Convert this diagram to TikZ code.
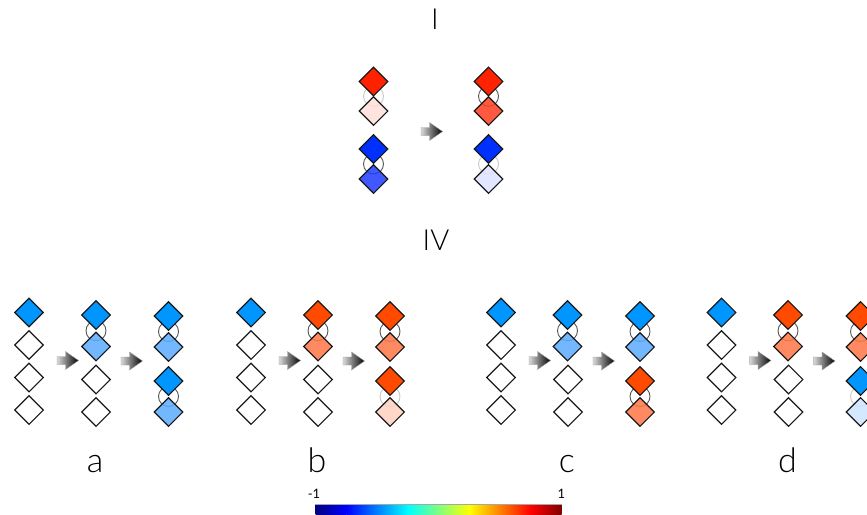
\documentclass[tikz,border=0pt]{standalone}
\usepackage{fontspec}
\setmainfont{Lato}[UprightFont=* Light]
\newfontfamily\tickfont{Lato}
\usetikzlibrary{shapes.geometric}

% fills
\definecolor{topred}{RGB}{255,34,0}
\definecolor{topredb}{RGB}{255,60,30}
\definecolor{pink}{RGB}{255,222,216}
\definecolor{topblue}{RGB}{0,48,255}
\definecolor{topblueb}{RGB}{30,60,255}
\definecolor{paleviolet}{RGB}{222,226,255}
\definecolor{sblue}{RGB}{0,150,255}
\definecolor{lblue}{RGB}{90,170,255}
\definecolor{paleblue}{RGB}{204,228,255}
\definecolor{sorange}{RGB}{255,74,0}
\definecolor{lorange}{RGB}{255,118,70}
\definecolor{peach}{RGB}{255,208,192}
\definecolor{ringdark}{RGB}{85,85,85}
\definecolor{ringlight}{RGB}{200,200,200}

% a pair of linked sites: name, x, y top, y bottom, top fill, bottom fill, ring colour
\newcommand\bondpair[7]{%
  \node[ring=#7] (#1c) at (#2,{(#3+#4)/2}) {};
  \node[dia, fill=#5] (#1t) at (#2,#3) {};
  \node[dia, fill=#6, fill opacity=0.85] (#1b) at (#2,#4) {};
}
% shaded block arrow centred on a named point
\newcommand\steparrow[3]{%
  \coordinate (#1) at (#2,#3);
  \shade[left color=black!15, right color=black, draw=black!40, line width=0.4pt]
    ([xshift=-11pt,yshift=4pt]#1) -- ([xshift=-2.5pt,yshift=4pt]#1)
    -- ([xshift=-2.5pt,yshift=9pt]#1) -- ([xshift=10.5pt]#1)
    -- ([xshift=-2.5pt,yshift=-9pt]#1) -- ([xshift=-2.5pt,yshift=-4pt]#1)
    -- ([xshift=-11pt,yshift=-4pt]#1) -- cycle;
}
% first two columns and the arrows of one panel of the lower row
\newcommand\panelrow[2]{%
  \node[dia, fill=sblue] (#1s1) at (#2+29,312.5) {};
  \node[dia, fill=white] (#1s2) at (#2+29,345) {};
  \node[dia, fill=white] (#1s3) at (#2+29,377.5) {};
  \node[dia, fill=white] (#1s4) at (#2+29,410) {};
  \steparrow{#1ar1}{#2+68}{360.5}
  \node[dia, fill=white] (#1m3) at (#2+96,379.5) {};
  \node[dia, fill=white] (#1m4) at (#2+96,412) {};
  \steparrow{#1ar2}{#2+132}{361}
}

\begin{document}
\begin{tikzpicture}[x=1pt,y=-1pt,
  dia/.style={diamond, draw=black!90, line width=1.1pt, minimum width=29pt,
    minimum height=29pt, inner sep=0pt, aspect=1},
  ring/.style={circle, draw=#1, line width=0.9pt, minimum size=20pt, inner sep=0pt},
  heading/.style={anchor=base, font=\fontsize{29}{34}\selectfont},
  caption/.style={anchor=base, font=\fontsize{34}{40}\selectfont},
  tick/.style={anchor=base, font=\tickfont\fontsize{13}{16}\selectfont}]
\clip (0,0) rectangle (867,514);

% ---- upper scheme -------------------------------------------------------
\node[heading] (tI) at (435,29) {I};
\bondpair{ul}{373.5}{81.5}{111}{topred}{pink}{ringlight}
\bondpair{ll}{373.5}{149}{179}{topblue}{topblueb}{ringdark}
\steparrow{tar}{432}{131.5}
\bondpair{ur}{488.5}{81.5}{111}{topred}{topredb}{ringdark}
\bondpair{lr}{488.5}{149}{179}{topblue}{paleviolet}{ringlight}

% ---- lower scheme -------------------------------------------------------
\node[heading] (tIV) at (436,250) {IV};

% a
\panelrow{a}{0}
\bondpair{am}{96}{315}{346.5}{sblue}{lblue}{ringdark}
\bondpair{ap}{168.5}{316}{347}{sblue}{lblue}{ringdark}
\bondpair{aq}{168.5}{381}{412}{sblue}{lblue}{ringdark}
\node[caption] (la) at (95,472) {a};

% b
\panelrow{b}{222}
\bondpair{bm}{318}{315}{346.5}{sorange}{lorange}{ringdark}
\bondpair{bp}{390}{316}{347}{sorange}{lorange}{ringdark}
\bondpair{bq}{390}{381}{412}{sorange}{peach}{ringlight}
\node[caption] (lb) at (317,472) {b};

% c
\panelrow{c}{472}
\bondpair{cm}{567.5}{315}{346.5}{sblue}{lblue}{ringdark}
\bondpair{cp}{640}{316}{347}{sblue}{lblue}{ringdark}
\bondpair{cq}{640}{381}{412}{sorange}{lorange}{ringdark}
\node[caption] (lc) at (567,472) {c};

% d
\panelrow{d}{692.5}
\bondpair{dm}{788}{315}{346.5}{sorange}{lorange}{ringdark}
\bondpair{dp}{860.5}{316}{347}{sorange}{lorange}{ringdark}
\bondpair{dq}{860.5}{381}{412}{sblue}{paleblue}{ringlight}
\node[caption] (ld) at (787.5,472) {d};

% ---- colour scale (jet) -------------------------------------------------
\def\cbx{315.5}\def\cbw{246}
\shade[left color={rgb,1:red,0;green,0;blue,0.5}, right color={rgb,1:red,0;green,0;blue,1}]
  (\cbx,504.5) rectangle (\cbx+0.125*\cbw+0.3,514);
\shade[left color={rgb,1:red,0;green,0;blue,1}, right color={rgb,1:red,0;green,1;blue,1}]
  (\cbx+0.125*\cbw,504.5) rectangle (\cbx+0.375*\cbw+0.3,514);
\shade[left color={rgb,1:red,0;green,1;blue,1}, right color={rgb,1:red,1;green,1;blue,0}]
  (\cbx+0.375*\cbw,504.5) rectangle (\cbx+0.625*\cbw+0.3,514);
\shade[left color={rgb,1:red,1;green,1;blue,0}, right color={rgb,1:red,1;green,0;blue,0}]
  (\cbx+0.625*\cbw,504.5) rectangle (\cbx+0.875*\cbw+0.3,514);
\shade[left color={rgb,1:red,1;green,0;blue,0}, right color={rgb,1:red,0.5;green,0;blue,0}]
  (\cbx+0.875*\cbw,504.5) rectangle (\cbx+\cbw,514);
\draw[gray!70, line width=0.8pt] (\cbx,504.5) -- (\cbx+\cbw,504.5);
\node[tick] (cbmin) at (314,498) {-1};
\node[tick] (cbmax) at (561.5,498) {1};
\end{tikzpicture}
\end{document}
